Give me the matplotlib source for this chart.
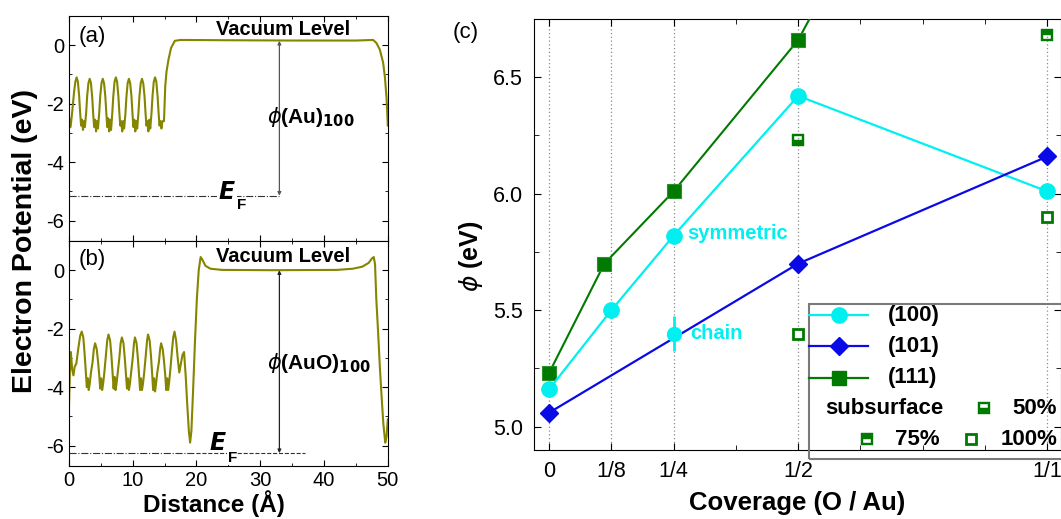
import matplotlib
matplotlib.use('Agg')
import matplotlib.pyplot as plt
from matplotlib.path import Path
from matplotlib.patches import Rectangle
from matplotlib.lines import Line2D
from matplotlib.ticker import MultipleLocator, FixedLocator

plt.rcParams['font.family'] = ['Liberation Sans', 'DejaVu Sans']
plt.rcParams['mathtext.fontset'] = 'dejavusans'
plt.rcParams['axes.unicode_minus'] = False

# ---- (a) planar averaged potential, clean Au(100) slab ----
dist_a = [0.0, 0.25, 0.5, 0.8, 1.0,
          1.2, 1.4, 1.6, 1.75, 1.9, 2.05, 2.2, 2.35, 2.5, 2.7, 2.85, 3.05,
          3.25, 3.45, 3.65, 3.8, 3.95, 4.1, 4.25, 4.4, 4.55, 4.75, 4.9, 5.1,
          5.3, 5.5, 5.7, 5.85, 6.0, 6.15, 6.3, 6.45, 6.6, 6.8, 6.95, 7.15,
          7.35, 7.55, 7.75, 7.9, 8.05, 8.2, 8.35, 8.5, 8.65, 8.85, 9.0, 9.2,
          9.4, 9.6, 9.8, 9.95, 10.1, 10.25, 10.4, 10.55, 10.7, 10.9, 11.05, 11.25,
          11.45, 11.65, 11.85, 12.0, 12.15, 12.3, 12.45, 12.6, 12.75, 12.95, 13.1, 13.3,
          13.5, 13.7, 13.9, 14.05, 14.2, 14.35, 14.5, 14.65, 14.9, 15.1, 15.3, 15.6,
          16.0, 16.6, 17.5, 25.0, 35.0, 45.0, 47.7, 48.2, 48.75, 49.27, 49.55, 49.8, 50.0]
pot_a = [-2.45, -2.8, -2.3, -1.6, -1.25,
         -1.1, -1.25, -1.75, -2.3, -2.75, -2.55, -2.9, -2.6, -2.8, -2.3, -1.75, -1.3,
         -1.15, -1.3, -1.8, -2.35, -2.8, -2.55, -2.95, -2.6, -2.85, -2.3, -1.75, -1.3,
         -1.15, -1.3, -1.75, -2.3, -2.8, -2.5, -2.95, -2.55, -2.9, -2.3, -1.75, -1.25,
         -1.1, -1.25, -1.75, -2.3, -2.75, -2.6, -2.95, -2.6, -2.85, -2.35, -1.8, -1.3,
         -1.15, -1.3, -1.75, -2.3, -2.8, -2.55, -2.95, -2.6, -2.85, -2.3, -1.75, -1.3,
         -1.15, -1.3, -1.75, -2.3, -2.75, -2.6, -2.95, -2.55, -2.85, -2.3, -1.75, -1.25,
         -1.1, -1.25, -1.75, -2.3, -2.75, -2.6, -2.85, -2.6, -2.6, -1.4, -0.9, -0.5,
         -0.1, 0.15, 0.18, 0.17, 0.16, 0.16, 0.18, 0.08, -0.15, -0.6, -1.1, -1.8, -2.75]

# ---- (b) planar averaged potential, oxidised AuO(100) slab ----
dist_b = [0.0, 0.15, 0.3, 0.5, 0.7, 0.9, 1.15, 1.45, 1.75,
          2.0, 2.25, 2.45, 2.65, 2.8, 2.95, 3.1, 3.25, 3.45, 3.7, 3.9,
          4.1, 4.35, 4.55, 4.75, 4.9, 5.05, 5.2, 5.35, 5.55, 5.8, 6.0,
          6.2, 6.45, 6.65, 6.85, 7.0, 7.15, 7.3, 7.45, 7.65, 7.9, 8.1,
          8.3, 8.55, 8.75, 8.95, 9.1, 9.25, 9.4, 9.55, 9.75, 10.0, 10.2,
          10.35, 10.6, 10.8, 11.0, 11.15, 11.3, 11.45, 11.6, 11.8, 12.05, 12.25,
          12.4, 12.65, 12.85, 13.05, 13.2, 13.35, 13.5, 13.65, 13.85, 14.1, 14.3,
          14.45, 14.7, 14.9, 15.1, 15.25, 15.4, 15.55, 15.7, 15.9, 16.15, 16.35,
          16.55, 16.8, 17.05, 17.3, 17.55, 17.8, 18.05, 18.3, 18.55, 18.8, 19.0,
          19.2, 19.45, 19.75, 20.05, 20.35, 20.65, 20.95, 21.4, 22.2, 24.0, 32.0,
          42.0, 44.5, 46.0, 47.0, 47.5, 47.8, 48.0, 48.2, 48.5, 48.75, 49.05,
          49.3, 49.6, 49.8, 50.0]
pot_b = [-4.7, -3.4, -2.8, -3.4, -3.6, -3.3, -3.2, -2.7, -2.25,
         -2.1, -2.3, -2.85, -3.5, -4.0, -3.7, -4.1, -3.9, -3.5, -3.15, -2.7,
         -2.5, -2.7, -3.1, -3.6, -4.05, -3.7, -4.1, -3.9, -3.5, -2.9, -2.4,
         -2.2, -2.4, -2.9, -3.55, -4.05, -3.65, -4.1, -3.9, -3.5, -3.0, -2.5,
         -2.3, -2.5, -3.0, -3.6, -4.05, -3.7, -4.1, -3.9, -3.5, -3.0, -2.5,
         -2.3, -2.5, -3.0, -3.6, -4.1, -3.7, -4.1, -3.9, -3.5, -2.9, -2.4,
         -2.2, -2.4, -2.9, -3.55, -4.1, -3.7, -4.15, -3.9, -3.5, -3.15, -2.7,
         -2.5, -2.7, -3.1, -3.6, -4.1, -3.7, -4.1, -3.85, -3.4, -2.75, -2.3,
         -2.1, -2.4, -3.0, -3.5, -3.2, -2.9, -2.8, -3.6, -4.6, -5.5, -5.9,
         -5.5, -4.2, -2.5, -1.0, 0.0, 0.45, 0.35, 0.15, 0.05, 0.01, 0.0,
         0.01, 0.05, 0.12, 0.25, 0.4, 0.45, 0.2, -1.0, -2.2, -3.3, -4.4,
         -5.25, -5.9, -5.7, -5.1]

ef_a = -5.15
ef_b = -6.26
vac_a = 0.15
vac_b = 0.0
arrow_x = 33.0

# ---- (c) work function vs O coverage ----
cov_ticks = [0, 1/8, 1/4, 1/2, 1]
cov_labels = ['0', '1/8', '1/4', '1/2', '1/1']
cov_100 = [0, 1/8, 1/4, 1/2, 1]
phi_100 = [5.16, 5.50, 5.82, 6.42, 6.01]
cov_101 = [0, 1/2, 1]
phi_101 = [5.06, 5.70, 6.16]
cov_111 = [0, 1/9, 1/4, 1/2, 1]
phi_111 = [5.23, 5.70, 6.01, 6.66, 8.65]
cov_chain = [1/4]
phi_chain = [5.40]
err_chain = [0.075]
cov_sub50 = [1/2]
phi_sub50 = [6.23]
cov_sub75 = [1]
phi_sub75 = [6.68]
cov_sub100 = [1/2, 1]
phi_sub100 = [5.40, 5.90]

olive = '#858500'
cyan = '#00F0F0'
blue = '#0A0AE6'
green = '#007A00'


def bar_marker(top):
    y0, y1 = (0.0, 0.6) if top else (-0.6, 0.0)
    verts = [(-1, -1), (1, -1), (1, 1), (-1, 1), (-1, -1),
             (-0.68, y0), (-0.68, y1), (0.68, y1), (0.68, y0), (-0.68, y0)]
    codes = [Path.MOVETO, Path.LINETO, Path.LINETO, Path.LINETO, Path.CLOSEPOLY] * 2
    return Path(verts, codes)


m50 = bar_marker(True)
m75 = bar_marker(False)

fig = plt.figure(figsize=(10.61, 5.19), dpi=100)
ax_a = fig.add_axes([0.065, 0.5357, 0.3005, 0.4335])
ax_b = fig.add_axes([0.065, 0.1021, 0.3005, 0.4336])
ax_c = fig.add_axes([0.5033, 0.1329, 0.4967, 0.8305])

for ax in (ax_a, ax_b):
    ax.set_xlim(0, 50)
    ax.set_ylim(-6.7, 1.0)
    ax.xaxis.set_major_locator(MultipleLocator(10))
    ax.xaxis.set_minor_locator(MultipleLocator(5))
    ax.yaxis.set_major_locator(MultipleLocator(2))
    ax.yaxis.set_minor_locator(MultipleLocator(1))
    ax.tick_params(which='both', direction='in', top=True, right=True,
                   labelsize=14.5, pad=3.5)
    ax.tick_params(which='major', length=4)
    ax.tick_params(which='minor', length=2.2)
ax_a.tick_params(labelbottom=False)

ax_a.plot(dist_a, pot_a, color=olive, lw=1.5)
ax_b.plot(dist_b, pot_b, color=olive, lw=1.5)

# Fermi levels
ax_a.plot([0, arrow_x], [ef_a, ef_a], color='#333333', lw=0.8, ls='-.')
ax_b.plot([0, 20], [ef_b, ef_b], color='#333333', lw=0.8, ls='-.')
ax_b.plot([20, 37], [ef_b, ef_b], color='#333333', lw=0.8, ls='--')

ax_a.annotate('', xy=(arrow_x, ef_a), xytext=(arrow_x, vac_a),
              arrowprops=dict(arrowstyle='<|-|>', color='#555555', lw=0.9,
                              mutation_scale=5, shrinkA=0, shrinkB=0))
ax_b.annotate('', xy=(arrow_x, ef_b), xytext=(arrow_x, vac_b),
              arrowprops=dict(arrowstyle='<|-|>', color='#222222', lw=0.9,
                              mutation_scale=5, shrinkA=0, shrinkB=0))

for ax, lab, vy in ((ax_a, '(a)', 0.11), (ax_b, '(b)', 0.17)):
    ax.text(1.45, vy, lab, fontsize=16, va='baseline')
ax_a.text(33.6, 0.34, 'Vacuum Level', fontsize=14.5, fontweight='bold',
          ha='center', va='baseline')
ax_b.text(33.6, 0.28, 'Vacuum Level', fontsize=14.5, fontweight='bold',
          ha='center', va='baseline')

ax_a.text(31.1, -2.66, r'$\phi$(Au)$_{\mathbf{100}}$', fontsize=15,
          fontweight='bold', va='baseline')
ax_b.text(31.0, -3.38, r'$\phi$(AuO)$_{\mathbf{100}}$', fontsize=15,
          fontweight='bold', va='baseline')

ax_a.text(23.4, -5.26, r'$\boldsymbol{E}$', fontsize=17, va='baseline',
          bbox=dict(fc='white', ec='none', pad=0.5))
ax_a.text(26.3, -5.62, 'F', fontsize=11, fontweight='bold', va='baseline',
          bbox=dict(fc='white', ec='none', pad=0.3))
ax_b.text(22.0, -6.15, r'$\boldsymbol{E}$', fontsize=17, va='baseline')
ax_b.text(24.9, -6.55, 'F', fontsize=11, fontweight='bold', va='baseline',
          bbox=dict(fc='white', ec='none', pad=0.3))

fig.text(0.024, 0.536, 'Electron Potential (eV)', rotation=90, fontsize=20.5,
         fontweight='bold', ha='center', va='center')
fig.text(0.2015, 0.03, 'Distance (Å)', fontsize=17.5, fontweight='bold',
         ha='center', va='center')

# ---- panel (c) ----
ax = ax_c
ax.set_xlim(-0.0301, 1.0273)
ax.set_ylim(4.9, 6.75)
ax.xaxis.set_major_locator(FixedLocator(cov_ticks))
ax.set_xticklabels(cov_labels)
ax.xaxis.set_minor_locator(MultipleLocator(1/8))
ax.yaxis.set_major_locator(MultipleLocator(0.5))
ax.yaxis.set_minor_locator(MultipleLocator(0.25))
ax.yaxis.set_major_formatter(plt.FormatStrFormatter('%.1f'))
ax.tick_params(which='both', direction='in', top=True, right=True,
               labelsize=15.5, pad=8)
ax.tick_params(which='major', length=5)
ax.tick_params(which='minor', length=3.5)
for c in cov_ticks:
    ax.axvline(c, color='#8c8c8c', lw=0.9, ls=(0, (1, 2)), zorder=0)

ax.plot(cov_111, phi_111, color=green, lw=1.5, marker='s', ms=10,
        mfc=green, mec='#2a922a', mew=0.8, zorder=3)
ax.plot(cov_100, phi_100, color=cyan, lw=1.6, marker='o', ms=11,
        mfc=cyan, mec=cyan, zorder=4)
ax.plot(cov_101, phi_101, color=blue, lw=1.6, marker='D', ms=9.5,
        mfc=blue, mec=blue, zorder=4)
ax.errorbar(cov_chain, phi_chain, yerr=err_chain, fmt='o', ms=10,
            color=cyan, elinewidth=2, capsize=0, zorder=5)
ax.plot(cov_sub50, phi_sub50, ls='none', marker=m50, ms=8.5, mfc=green,
        mec=green, mew=0.3, zorder=5)
ax.plot(cov_sub75, phi_sub75, ls='none', marker=m75, ms=8.5, mfc=green,
        mec=green, mew=0.3, zorder=5)
ax.plot(cov_sub100, phi_sub100, ls='none', marker='s', ms=7, mfc='white',
        mec=green, mew=2, zorder=5)

ax.text(0.277, 5.83, 'symmetric', color=cyan, fontsize=14.5,
        fontweight='bold', va='center')
ax.text(0.283, 5.40, 'chain', color=cyan, fontsize=14.5,
        fontweight='bold', va='center')

ax.set_ylabel(r'$\phi$ (eV)', fontsize=18, fontweight='bold')
ax.yaxis.set_label_coords(-0.093, 0.45)
ax.set_xlabel('Coverage (O / Au)', fontsize=18.5, fontweight='bold')
ax.xaxis.set_label_coords(0.5, -0.123)
ax.xaxis.label.set_va('center')
fig.text(0.427, 0.938, '(c)', fontsize=16, ha='left', va='center')

# legend drawn by hand to keep the two-column subsurface rows
T = ax.transAxes
ax.add_patch(Rectangle((0.522, -0.02), 0.5, 0.359, transform=T, fc='none',
                       ec='#7a7a7a', lw=1.5, zorder=6, clip_on=False))
rows = [(0.313, cyan, 'o', 11, '(100)'), (0.241, blue, 'D', 9.5, '(101)'),
        (0.168, green, 's', 10, '(111)')]
for yy, col, mk, ms, lab in rows:
    ax.add_line(Line2D([0.522, 0.634], [yy, yy], transform=T, color=col,
                       lw=1.6, zorder=7))
    ax.add_line(Line2D([0.578], [yy], transform=T, color=col, marker=mk,
                       ms=ms, mfc=col, mec=col, zorder=7))
    ax.text(0.672, yy, lab, transform=T, fontsize=16, fontweight='bold',
            va='center', zorder=7)
ax.text(0.552, 0.097, 'subsurface', transform=T, fontsize=16,
        fontweight='bold', va='center', zorder=7)
ax.add_line(Line2D([0.854], [0.097], transform=T, marker=m50, ms=8.5,
                   mfc=green, mec=green, mew=0.3, zorder=7))
ax.text(0.908, 0.097, '50%', transform=T, fontsize=16, fontweight='bold',
        va='center', zorder=7)
ax.add_line(Line2D([0.631], [0.025], transform=T, marker=m75, ms=8.5,
                   mfc=green, mec=green, mew=0.3, zorder=7))
ax.text(0.685, 0.025, '75%', transform=T, fontsize=16, fontweight='bold',
        va='center', zorder=7)
ax.add_line(Line2D([0.829], [0.025], transform=T, marker='s', ms=7,
                   mfc='white', mec=green, mew=2, zorder=7))
ax.text(0.886, 0.025, '100%', transform=T, fontsize=16, fontweight='bold',
        va='center', zorder=7)

fig.savefig('out.png', dpi=100)
